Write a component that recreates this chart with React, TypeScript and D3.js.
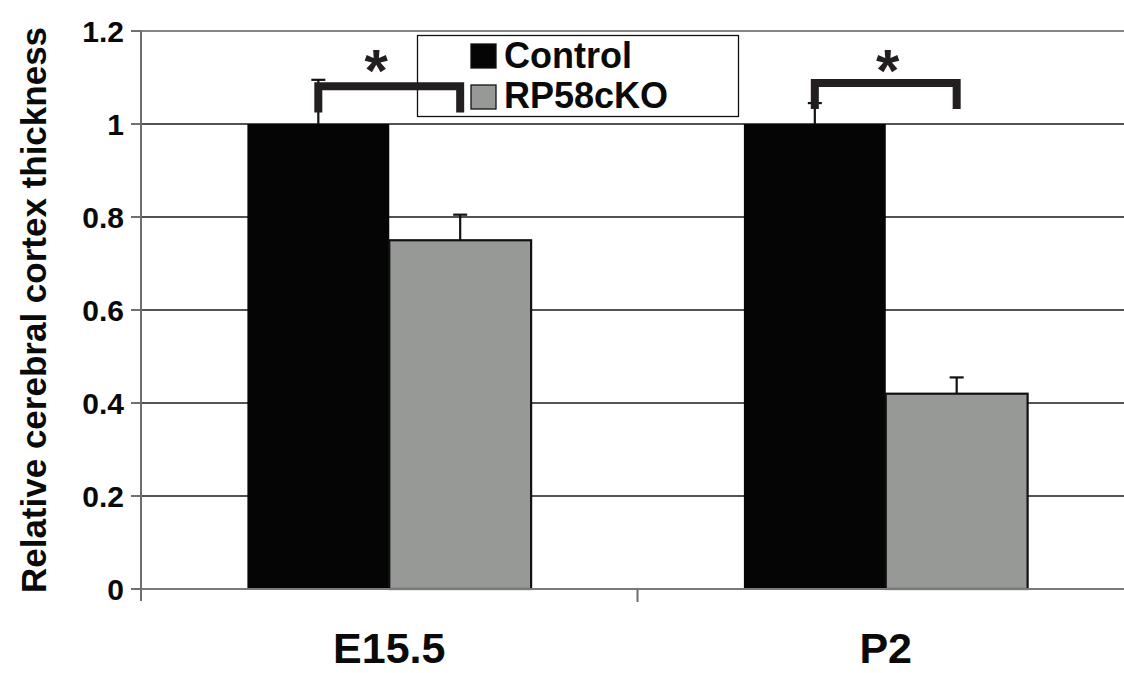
import React from "react";
import * as d3 from "d3";

// chart values
const categories = ["E15.5", "P2"];
const seriesNames = ["Control", "RP58cKO"];
const controlValues = [1.0, 1.0];
const controlErrors = [0.095, 0.045];
const koValues = [0.75, 0.42];
const koErrors = [0.055, 0.035];
const yTicks = [0, 0.2, 0.4, 0.6, 0.8, 1, 1.2];
const bracketTop = [1.081, 1.088];
const bracketBottom = [1.025, 1.032];
const starLevel = [1.128, 1.13];

const FONT = "'Liberation Sans', Arial, sans-serif";

const App = () => {
  const svgRef = React.useRef<SVGSVGElement | null>(null);
  const width = 1124;
  const height = 673;
  const plot = { left: 141, right: 1134, top: 31, bottom: 589 };

  React.useEffect(() => {
    const svg = d3.select(svgRef.current);
    svg.selectAll("*").remove();

    const y = d3.scaleLinear().domain([0, 1.2]).range([plot.bottom, plot.top]);
    const x0 = d3
      .scaleBand()
      .domain(categories)
      .range([plot.left, plot.right])
      .paddingInner(0)
      .paddingOuter(0);
    // excel style gap width 150%
    const x1 = d3
      .scaleBand()
      .domain(seriesNames)
      .range([0, x0.bandwidth()])
      .paddingInner(0)
      .paddingOuter(0.75);

    const colors: Record<string, string> = { Control: "#050505", RP58cKO: "#979997" };

    // gridlines
    svg
      .append("g")
      .selectAll("line")
      .data(yTicks.filter((d) => d > 0))
      .enter()
      .append("line")
      .attr("x1", plot.left)
      .attr("x2", width)
      .attr("y1", (d) => y(d))
      .attr("y2", (d) => y(d))
      .style("stroke", (d) => (d === 1.2 ? "#858585" : "#1a1a1a"))
      .style("stroke-width", (d) => (d === 1.2 ? 2 : 1.3));

    // y ticks + labels
    const yAxis = svg.append("g");
    yAxis
      .selectAll("line")
      .data(yTicks)
      .enter()
      .append("line")
      .attr("x1", plot.left - 10)
      .attr("x2", plot.left)
      .attr("y1", (d) => y(d))
      .attr("y2", (d) => y(d))
      .style("stroke", "#222")
      .style("stroke-width", 1.3);
    yAxis
      .selectAll("text")
      .data(yTicks)
      .enter()
      .append("text")
      .attr("x", 124)
      .attr("y", (d) => y(d))
      .attr("dy", "0.36em")
      .attr("text-anchor", "end")
      .style("font-family", FONT)
      .style("font-weight", "bold")
      .style("font-size", "30px")
      .style("fill", "#0a0a0a")
      .text((d) => d3.format("")(+d.toFixed(1)));

    // bars
    const rows = categories.map((c, i) => [
      { cat: c, s: "Control", v: controlValues[i], e: controlErrors[i] },
      { cat: c, s: "RP58cKO", v: koValues[i], e: koErrors[i] },
    ]);
    const flat = rows.flat();
    svg
      .append("g")
      .selectAll("rect")
      .data(flat)
      .enter()
      .append("rect")
      .attr("x", (d) => (x0(d.cat) as number) + (x1(d.s) as number))
      .attr("y", (d) => y(d.v))
      .attr("width", x1.bandwidth())
      .attr("height", (d) => y(0) - y(d.v))
      .style("fill", (d) => colors[d.s])
      .style("stroke", (d) => (d.s === "Control" ? "none" : "#111"))
      .style("stroke-width", 2.2);

    // error bars (upper only)
    const err = svg.append("g").style("stroke", "#111").style("stroke-width", 2.2);
    const cx = (d: { cat: string; s: string }) =>
      (x0(d.cat) as number) + (x1(d.s) as number) + x1.bandwidth() / 2;
    err
      .selectAll("line.v")
      .data(flat)
      .enter()
      .append("line")
      .attr("x1", cx)
      .attr("x2", cx)
      .attr("y1", (d) => y(d.v))
      .attr("y2", (d) => y(d.v + d.e));
    err
      .selectAll("line.c")
      .data(flat)
      .enter()
      .append("line")
      .attr("x1", (d) => cx(d) - 7)
      .attr("x2", (d) => cx(d) + 7)
      .attr("y1", (d) => y(d.v + d.e))
      .attr("y2", (d) => y(d.v + d.e));

    // axes lines
    svg
      .append("line")
      .attr("x1", plot.left)
      .attr("x2", width)
      .attr("y1", y(0))
      .attr("y2", y(0))
      .style("stroke", "#7a7a7a")
      .style("stroke-width", 2);
    svg
      .append("line")
      .attr("x1", plot.left)
      .attr("x2", plot.left)
      .attr("y1", plot.top)
      .attr("y2", plot.bottom + 12)
      .style("stroke", "#6e6e6e")
      .style("stroke-width", 2);
    svg
      .append("g")
      .selectAll("line")
      .data(categories.slice(1))
      .enter()
      .append("line")
      .attr("x1", (d) => x0(d) as number)
      .attr("x2", (d) => x0(d) as number)
      .attr("y1", y(0))
      .attr("y2", y(0) + 13)
      .style("stroke", "#6e6e6e")
      .style("stroke-width", 2);

    // category labels
    svg
      .append("g")
      .selectAll("text")
      .data(categories)
      .enter()
      .append("text")
      .attr("x", (d) => (x0(d) as number) + x0.bandwidth() / 2)
      .attr("y", 663)
      .attr("text-anchor", "middle")
      .style("font-family", FONT)
      .style("font-weight", "bold")
      .style("font-size", "43px")
      .style("fill", "#0a0a0a")
      .text((d) => d);

    // y title
    svg
      .append("text")
      .attr("transform", `translate(46, 310) rotate(-90)`)
      .attr("text-anchor", "middle")
      .style("font-family", FONT)
      .style("font-weight", "bold")
      .style("font-size", "35px")
      .style("fill", "#0a0a0a")
      .text("Relative cerebral cortex thickness");

    // legend
    const lg = svg.append("g");
    lg.append("rect")
      .attr("x", 417.5)
      .attr("y", 35.5)
      .attr("width", 321)
      .attr("height", 81)
      .style("fill", "#fff")
      .style("stroke", "#111")
      .style("stroke-width", 1.3);
    seriesNames.forEach((s, i) => {
      lg.append("rect")
        .attr("x", 471)
        .attr("y", 44 + i * 41)
        .attr("width", 25)
        .attr("height", 24)
        .style("fill", colors[s])
        .style("stroke", "#111")
        .style("stroke-width", 1.3);
      lg.append("text")
        .attr("x", 504)
        .attr("y", 68 + i * 40)
        .style("font-family", FONT)
        .style("font-weight", "bold")
        .style("font-size", "36px")
        .style("fill", "#0a0a0a")
        .text(s);
    });

    // significance brackets, drawn above the legend
    const br = svg.append("g");
    categories.forEach((c, i) => {
      const xa = cx({ cat: c, s: "Control" });
      const xb = cx({ cat: c, s: "RP58cKO" });
      const path = d3.path();
      path.moveTo(xa, y(bracketBottom[i]));
      path.lineTo(xa, y(bracketTop[i]));
      path.lineTo(xb, y(bracketTop[i]));
      path.lineTo(xb, y(bracketBottom[i]));
      br.append("path")
        .attr("d", path.toString())
        .style("fill", "none")
        .style("stroke", "#231f20")
        .style("stroke-width", 8)
        .style("stroke-linejoin", "miter");
      br.append("text")
        .attr("x", (xa + xb) / 2 + (i === 0 ? -13 : 2))
        .attr("y", y(starLevel[i]))
        .attr("dy", "0.45em")
        .attr("text-anchor", "middle")
        .style("font-family", FONT)
        .style("font-weight", "bold")
        .style("font-size", "60px")
        .style("fill", "#231f20")
        .text("*");
    });
  }, []);

  return (
    <svg
      ref={svgRef}
      width={width}
      height={height}
      style={{ position: "absolute", left: 0, top: 0, background: "#fff" }}
    />
  );
};

export default App;
